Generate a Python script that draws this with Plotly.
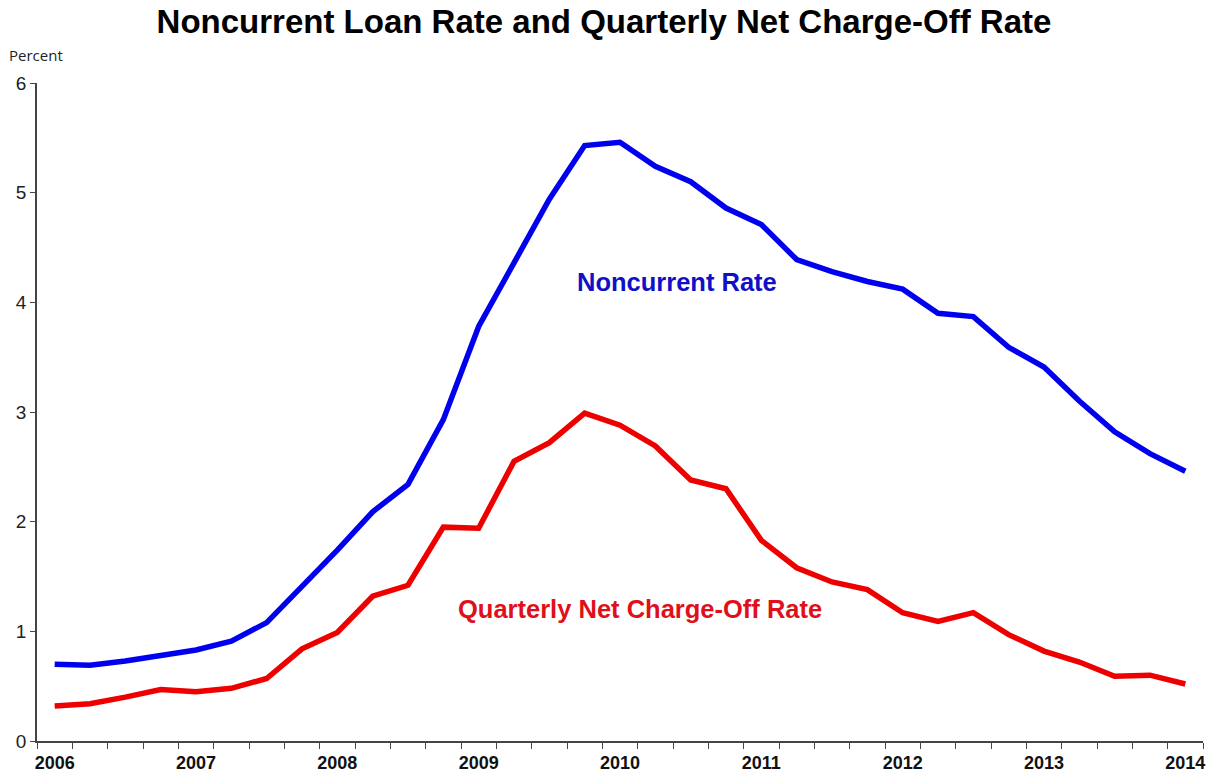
import plotly.graph_objects as go

quarters = [f"{y}Q{q}" for y in range(2006, 2014) for q in range(1, 5)] + ["2014Q1"]
noncurrent_rate = [0.70, 0.69, 0.73, 0.78, 0.83, 0.91, 1.08, 1.41, 1.74, 2.09, 2.34,
                   2.93, 3.78, 4.36, 4.94, 5.43, 5.46, 5.24, 5.10, 4.86, 4.71,
                   4.39, 4.28, 4.19, 4.12, 3.90, 3.87, 3.59, 3.41, 3.10, 2.82, 2.62, 2.46]
charge_off_rate = [0.32, 0.34, 0.40, 0.47, 0.45, 0.48, 0.57, 0.84, 0.99, 1.32, 1.42,
                   1.95, 1.94, 2.55, 2.72, 2.99, 2.88, 2.69, 2.38, 2.30, 1.83,
                   1.58, 1.45, 1.38, 1.17, 1.09, 1.17, 0.97, 0.82, 0.72, 0.59, 0.60, 0.52]
year_labels = [str(y) for y in range(2006, 2015)]
y_ticks = [0, 1, 2, 3, 4, 5, 6]

x = list(range(len(quarters)))
year_pos = [i for i, q in enumerate(quarters) if q.endswith("Q1")]

fig = go.Figure()
fig.add_trace(go.Scatter(x=x, y=noncurrent_rate, mode="lines", name="Noncurrent Rate",
                         line=dict(color="#0000ee", width=5.5), text=quarters))
fig.add_trace(go.Scatter(x=x, y=charge_off_rate, mode="lines", name="Quarterly Net Charge-Off Rate",
                         line=dict(color="#ee0000", width=5.5), text=quarters))

fig.add_annotation(x=17.6, y=4.19, text="<b>Noncurrent Rate</b>", showarrow=False,
                   font=dict(family="Liberation Sans, Arial", size=25.5, color="#1010c8"))
fig.add_annotation(x=16.57, y=1.20, text="<b>Quarterly Net Charge-Off Rate</b>", showarrow=False,
                   font=dict(family="Liberation Sans, Arial", size=25.5, color="#e0101a"))
fig.add_annotation(xref="paper", yref="paper", x=-0.026, y=1.043, xanchor="left", yanchor="middle",
                   text="Percent", showarrow=False,
                   font=dict(family="Open Sans, Noto Sans", size=15, color="#222222"))

fig.update_layout(
    width=1208, height=777,
    margin=dict(l=37, r=5, t=83, b=36, autoexpand=False),
    plot_bgcolor="white", paper_bgcolor="white",
    showlegend=False,
    title=dict(text="<b>Noncurrent Loan Rate and Quarterly Net Charge-Off Rate</b>",
               x=0.5, xanchor="center", y=1 - 21 / 777, yanchor="middle", yref="container",
               font=dict(family="Liberation Sans, Arial", size=33, color="#000000")),
    xaxis=dict(range=[-0.5, len(quarters) - 0.5], tickvals=year_pos, ticktext=year_labels,
               ticks="", showgrid=False, zeroline=False, showline=True, linecolor="#444444",
               linewidth=1.5, automargin=False,
               tickfont=dict(family="Liberation Sans, Arial", size=18, color="#111111", weight="bold"),
               ticklabelstandoff=5,
               minor=dict(ticks="outside", tick0=-0.5, dtick=1, ticklen=6, tickcolor="#444444",
                          tickwidth=1.2, showgrid=False)),
    yaxis=dict(range=[0, 6], tickvals=y_ticks, ticks="outside", ticklen=5, tickcolor="#444444",
               showgrid=False, zeroline=False, showline=True, linecolor="#444444", linewidth=1.5,
               automargin=False,
               tickfont=dict(family="Liberation Sans, Arial", size=19, color="#222222")),
)

fig.write_html("out.html", config={"displayModeBar": False},
               post_script="document.body.style.margin='0';document.body.style.padding='0';"
                           "document.body.style.overflow='hidden';")
